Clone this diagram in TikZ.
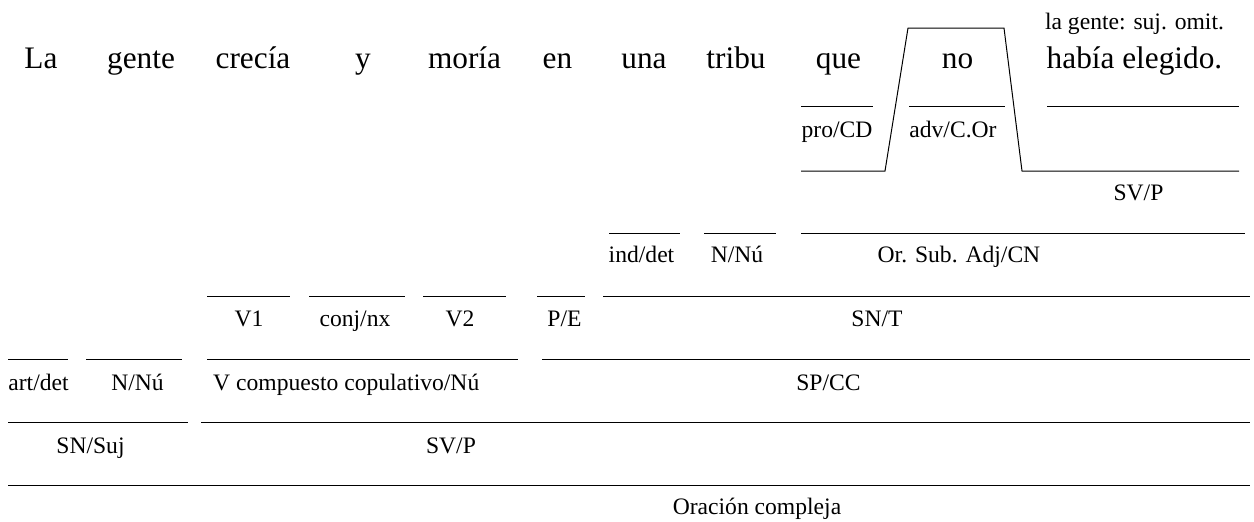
\documentclass[tikz,border=0pt]{standalone}
\usepackage{fontspec}
\setmainfont{Liberation Serif}
\begin{document}
\begin{tikzpicture}[x=1pt,y=-1pt,
  big/.style={font=\fontsize{31.3}{36}\selectfont, inner sep=0pt, anchor=base},
  lab/.style={font=\fontsize{23.6}{28}\selectfont, inner sep=0pt, anchor=base},
  rule/.style={line width=1pt, line cap=butt, line join=miter}]
\useasboundingbox (0,0) rectangle (1254,522);
% sentence
\node[big] (w1) at (41,68.5) {La};
\node[big] (w2) at (141,68.5) {gente};
\node[big] (w3) at (253,68.5) {crecía};
\node[big] (w4) at (363,68.5) {y};
\node[big] (w5) at (464.5,68.5) {moría};
\node[big] (w6) at (557.5,68.5) {en};
\node[big] (w7) at (644,68.5) {una};
\node[big] (w8) at (736,68.5) {tribu};
\node[big] (w9) at (838.5,68.5) {que};
\node[big] (w10) at (957.5,68.5) {no};
\node[big] (w11) at (1134.5,68.5) {había elegido.};
\node[lab] (omit) at (1134.5,30) {la gente: suj. omit.};
% subordinate clause level
\draw[rule] (801,106) -- (873,106);
\draw[rule] (909,106) -- (1005,106);
\draw[rule] (1047,106) -- (1239,106);
\node[lab] (procd) at (837,137) {pro/CD};
\node[lab] (advcor) at (953,137) {adv/C.Or};
\coordinate (t1) at (801,171);
\coordinate (t2) at (885,171);
\coordinate (t3) at (908,28);
\coordinate (t4) at (1004,28);
\coordinate (t5) at (1022,171);
\coordinate (t6) at (1239,171);
\draw[rule] (t1) -- (t2) -- (t3) -- (t4) -- (t5) -- (t6);
\node[lab] (svp2) at (1138.5,200) {SV/P};
% row: ind/det
\draw[rule] (609,233) -- (680,233);
\draw[rule] (704,233) -- (776,233);
\draw[rule] (801,233) -- (1245,233);
\node[lab] (inddet) at (641.5,262) {ind/det};
\node[lab] (nnu2) at (737,262) {N/Nú};
\node[lab] (orsub) at (959,262) {Or. Sub. Adj/CN};
% row: V1
\draw[rule] (207,296) -- (290,296);
\draw[rule] (309,296) -- (405,296);
\draw[rule] (423,296) -- (506,296);
\draw[rule] (537,296) -- (585,296);
\draw[rule] (603,296) -- (1250,296);
\node[lab] (v1) at (249,326) {V1};
\node[lab] (conj) at (355,326) {conj/nx};
\node[lab] (v2) at (460,326) {V2};
\node[lab] (pe) at (564.5,326) {P/E};
\node[lab] (snt) at (877,326) {SN/T};
% row: art/det
\draw[rule] (8,359) -- (68,359);
\draw[rule] (86,359) -- (182,359);
\draw[rule] (207,359) -- (518,359);
\draw[rule] (542,359) -- (1250,359);
\node[lab] (artdet) at (38.5,390) {art/det};
\node[lab] (nnu1) at (137.5,390) {N/Nú};
\node[lab, anchor=base west] (vcomp) at (213,390) {V compuesto copulativo/Nú};
\node[lab] (spcc) at (828.5,390) {SP/CC};
% row: SN/Suj
\draw[rule] (8,422) -- (188,422);
\draw[rule] (201,422) -- (1250,422);
\node[lab] (snsuj) at (90.5,453) {SN/Suj};
\node[lab] (svp1) at (451,453) {SV/P};
% row: oración
\draw[rule] (8,485) -- (1250,485);
\node[lab] (orac) at (757,514) {Oración compleja};
\end{tikzpicture}
\end{document}
